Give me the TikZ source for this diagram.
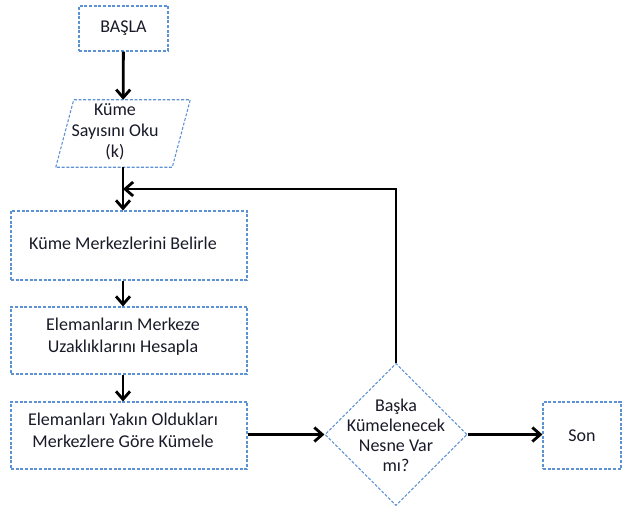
\documentclass[tikz,border=0pt]{standalone}
\usepackage{fontspec}
\setmainfont{Carlito}
\usetikzlibrary{arrows.meta,shapes.geometric,calc}
\definecolor{flowblue}{RGB}{92,145,212}
\definecolor{flowtext}{RGB}{25,25,40}
\begin{document}
\begin{tikzpicture}[x=0.75pt,y=-0.75pt,
  outline/.style={draw=flowblue,line width=0.8pt,dash pattern=on 2.2pt off 1.3pt},
  procbox/.style={outline,rectangle,inner sep=0pt,minimum width=177pt},
  decision/.style={outline,diamond,inner sep=0pt,minimum width=106.5pt,minimum height=106.5pt},
  txt/.style={text=flowtext,align=center,font=\fontsize{13.5pt}{16.5pt}\selectfont,inner sep=0pt},
  flow/.style={line width=2.1pt,-{Straight Barb[length=6pt,width=10.5pt,line width=2.1pt]}}]
\useasboundingbox (0,0) rectangle (622,507);

% start
\node[outline,rectangle,minimum width=66.75pt,minimum height=33.75pt,inner sep=0pt,txt]
  (start) at (123.5,28.5) {BAŞLA};

% input parallelogram, drawn around its mid-width frame
\node[inner sep=0pt,minimum width=87pt,minimum height=50.25pt] (read) at (123,133.5) {};
\draw[outline] ($(read.south west)+(-9,0)$) -- ($(read.north west)+(9,0)$)
  -- ($(read.north east)+(9,0)$) -- ($(read.south east)+(-9,0)$) -- cycle;
\node[txt,font=\fontsize{13.5pt}{15.75pt}\selectfont] (readtxt) at ($(read)+(-8,-2)$) {Küme\\Sayısını Oku\\(k)};

% processing steps
\node[procbox,minimum height=51.75pt] (b1) at (129,245.5) {};
\node[txt] (b1txt) at ($(b1)+(-6,-2)$) {Küme Merkezlerini Belirle};
\node[procbox,minimum height=50.25pt] (b2) at (129,340.5) {};
\node[txt] (b2txt) at ($(b2)+(-6,-4)$) {Elemanların Merkeze\\Uzaklıklarını Hesapla};
\node[procbox,minimum height=50.25pt] (b3) at (129,435.5) {};
\node[txt] (b3txt) at ($(b3)+(-6,-5)$) {Elemanları Yakın Oldukları\\Merkezlere Göre Kümele};

% decision and end
\node[decision] (dec) at (396,434.5) {\strut};
\node[txt,font=\fontsize{13.5pt}{15pt}\selectfont] (dectxt) at ($(dec)+(0,1)$) {Başka\\Kümelenecek\\Nesne Var\\mı?};
\node[outline,rectangle,minimum width=58.5pt,minimum height=50.25pt,inner sep=0pt,txt]
  (son) at (582,435.5) {Son};

% connectors
\coordinate (j) at (123,189);
\draw[flow] (start) -- (read);
\draw[flow] (read.south -| j) -- (j |- b1.north);
\draw[flow] (b1.south -| j) -- (j |- b2.north);
\draw[flow] (b2.south -| j) -- (j |- b3.north);
\draw[flow] (b3.east |- dec.west) -- (dec.west);
\draw[flow] (dec.east) -- (son.west |- dec.east);
\draw[flow] (dec.north) |- (j);
\end{tikzpicture}
\end{document}
